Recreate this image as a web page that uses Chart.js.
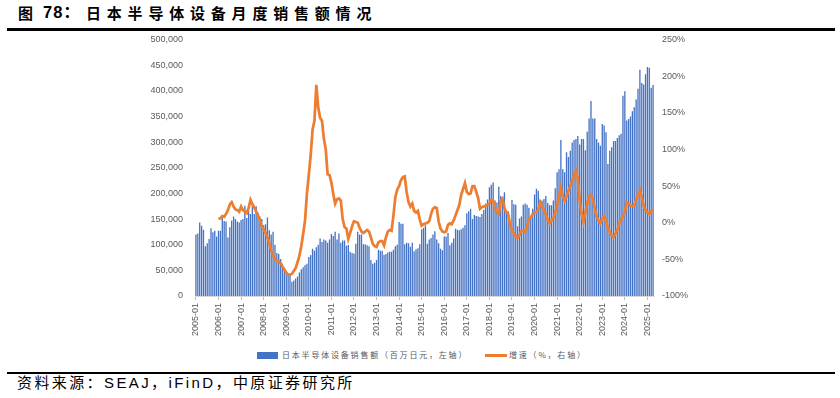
<!DOCTYPE html>
<html><head><meta charset="utf-8">
<script src="https://cdn.jsdelivr.net/npm/chart.js@4.4.0/dist/chart.umd.min.js"></script>
<style>
html,body{margin:0;padding:0;background:#fff;width:840px;height:398px;overflow:hidden;}
.tt{position:absolute;top:5px;font:bold 15px/17px "Liberation Sans","Noto Sans CJK SC",sans-serif;color:#000;white-space:nowrap;}
#topline{position:absolute;left:7px;top:28px;width:828px;height:3px;background:#000;}
#wrap{position:absolute;left:0;top:22px;width:840px;height:323px;}
.lg{position:absolute;font:8px/10px "Noto Sans CJK SC","Liberation Sans",sans-serif;letter-spacing:1.8px;color:#595959;white-space:nowrap;}
#botline{position:absolute;left:7px;top:372px;width:828px;height:2px;background:#000;}
#source{position:absolute;left:17px;top:375px;font:15px/16px "Liberation Sans","Noto Sans CJK SC",sans-serif;letter-spacing:2.4px;color:#000;white-space:nowrap;}
</style></head>
<body>
<div class="tt" style="left:18px">图</div>
<div class="tt" style="left:43px;top:4px;font-size:16.5px;letter-spacing:1px">78：</div>
<div class="tt" style="left:86px;letter-spacing:5.8px">日本半导体设备月度销售额情况</div>
<div id="topline"></div>
<div id="wrap"><canvas id="c" width="840" height="323"></canvas></div>
<div style="position:absolute;left:257px;top:352px;width:21px;height:7px;background:#4472C4"></div>
<div class="lg" style="left:282px;top:350px">日本半导体设备销售额（百万日元，左轴）</div>
<div style="position:absolute;left:485px;top:354px;width:22px;height:3px;background:#ED7D31"></div>
<div class="lg" style="left:509px;top:350px">增速（%，右轴）</div>
<div id="botline"></div>
<div id="source">资料来源：SEAJ，iFinD，中原证券研究所</div>
<script>
// Monthly sales of Japanese semiconductor equipment (million JPY)
const sales2005 = [120000,122000,143000,137000,129000,97000,103000,111000,132000,124000,127000,116000];
const sales2006 = [127000,127000,155000,146000,145000,114000,134000,147000,155000,150000,145000,143000];
const sales2007 = [148000,150000,176000,152000,165000,160000,176000,160000,175000,162000,155000,150000];
const sales2008 = [138000,140000,153000,128000,120000,125000,100000,84000,82000,72000,62000,55000];
const sales2009 = [44000,40000,42000,28000,30000,34000,38000,46000,52000,56000,60000,63000];
const sales2010 = [76000,80000,92000,88000,95000,100000,112000,105000,110000,108000,104000,110000];
const sales2011 = [121000,117000,125000,110000,122000,104000,108000,108000,98000,100000,86000,84000];
const sales2012 = [83000,102000,125000,120000,120000,101000,101000,99000,97000,70000,63000,65000];
const sales2013 = [70000,90000,88000,88000,80000,82000,85000,86000,86000,90000,97000,100000];
const sales2014 = [144000,141000,141000,101000,104000,103000,96000,104000,87000,91000,93000,101000];
const sales2015 = [130000,133000,138000,102000,110000,113000,120000,126000,110000,103000,92000,89000];
const sales2016 = [116000,116000,123000,99000,104000,112000,131000,129000,128000,130000,133000,138000];
const sales2017 = [161000,165000,170000,150000,158000,156000,155000,154000,160000,168000,180000,188000];
const sales2018 = [212000,217000,221000,186000,182000,213000,195000,190000,202000,165000,165000,138000];
const sales2019 = [187000,179000,178000,136000,151000,155000,178000,180000,178000,172000,150000,170000];
const sales2020 = [198000,209000,205000,187000,186000,189000,195000,181000,177000,177000,186000,210000];
const sales2021 = [241000,247000,304000,247000,241000,280000,271000,283000,299000,304000,306000,312000];
const sales2022 = [295000,306000,306000,284000,320000,346000,380000,346000,346000,306000,299000,293000];
const sales2023 = [335000,332000,319000,257000,283000,290000,302000,302000,308000,313000,316000,390000];
const sales2024 = [399000,342000,345000,350000,360000,368000,383000,404000,441000,415000,412000,432000];
const sales2025 = [446000,445000,406000,411000];

// Growth rate (%), starts 2006-01
const growth2006 = [5,6,9,8,12,17,25,28,22,18,17,15];
const growth2007 = [22,17,15,13,20,31,25,21,15,10,3,-5];
const growth2008 = [-9,-14,-20,-28,-38,-44,-50,-52,-53,-55,-60,-64];
const growth2009 = [-68,-71,-71,-70,-66,-62,-54,-45,-32,-15,3,40];
const growth2010 = [65,92,127,139,188,157,143,139,115,100,66,65];
const growth2011 = [55,39,26,32,33,30,5,-6,-8,-22,-14,-5];
const growth2012 = [2,1,0,-7,-12,-14,-12,-10,-12,-20,-29,-32];
const growth2013 = [-33,-27,-25,-25,-31,-20,-12,-10,-11,10,35,45];
const growth2014 = [50,58,62,63,42,28,22,26,16,14,16,4];
const growth2015 = [-4,-2,-1,0,2,12,19,21,20,2,-8,-12];
const growth2016 = [-13,-12,-3,-1,-2,3,10,17,24,38,46,54];
const growth2017 = [42,39,40,50,50,42,34,19,21,22,23,24];
const growth2018 = [26,31,30,20,14,12,30,33,20,14,12,-3];
const growth2019 = [-10,-15,-19,-21,-17,-11,-11,-13,-5,5,7,12];
const growth2020 = [14,14,18,28,22,17,11,4,-1,3,6,14];
const growth2021 = [24,36,48,36,30,36,43,50,56,66,71,60];
const growth2022 = [30,12,1,14,26,36,38,32,20,8,3,-1];
const growth2023 = [5,9,2,-7,-13,-17,-20,-15,-10,-1,4,9];
const growth2024 = [13,28,26,23,23,23,32,38,44,35,23,17];
const growth2025 = [14,12,16,18];

const years = [2005,2006,2007,2008,2009,2010,2011,2012,2013,2014,2015,2016,2017,2018,2019,2020,2021,2022,2023,2024,2025];
const salesByYear = [sales2005,sales2006,sales2007,sales2008,sales2009,sales2010,sales2011,sales2012,sales2013,sales2014,sales2015,sales2016,sales2017,sales2018,sales2019,sales2020,sales2021,sales2022,sales2023,sales2024,sales2025];
const growthByYear = [null,growth2006,growth2007,growth2008,growth2009,growth2010,growth2011,growth2012,growth2013,growth2014,growth2015,growth2016,growth2017,growth2018,growth2019,growth2020,growth2021,growth2022,growth2023,growth2024,growth2025];

const labels = [], sales = [], growth = [];
years.forEach((y, yi) => {
  salesByYear[yi].forEach((v, mi) => {
    labels.push(y + '-' + String(mi + 1).padStart(2, '0'));
    sales.push(v);
    growth.push(growthByYear[yi] ? growthByYear[yi][mi] : null);
  });
});

const tickFont = {family: '"Liberation Sans", Arial, sans-serif', size: 9};
new Chart(document.getElementById('c'), {
  data: {
    labels: labels,
    datasets: [
      {type: 'line', label: '增速（%，右轴）', data: growth, yAxisID: 'y1', borderColor: '#ED7D31', borderWidth: 2.75, pointRadius: 0, tension: 0, order: 1},
      {type: 'bar', label: '日本半导体设备销售额（百万日元，左轴）', data: sales, yAxisID: 'y', backgroundColor: '#4472C4', barPercentage: 0.7, categoryPercentage: 1, order: 2}
    ]
  },
  options: {
    responsive: false, animation: false, devicePixelRatio: 1,
    layout: {padding: {top: 6, left: 0, right: 0, bottom: 0}},
    plugins: {legend: {display: false}, tooltip: {enabled: false}},
    scales: {
      x: {
        offset: true,
        grid: {display: true, drawOnChartArea: false, offset: false, tickLength: 4,
               color: c => (c.index % 12 === 0 ? '#bfbfbf' : 'rgba(0,0,0,0)')},
        border: {display: true, color: '#d9d9d9'},
        ticks: {autoSkip: false, maxRotation: 90, minRotation: 90, padding: 3, color: '#595959', font: tickFont,
                callback: (v, i) => (i % 12 === 0 ? labels[i] : '')},
        afterFit: s => { s.height = 49; }
      },
      y: {
        position: 'left', min: 0, max: 500000,
        ticks: {stepSize: 50000, padding: 12, color: '#595959', font: tickFont, callback: v => v.toLocaleString('en-US')},
        grid: {display: false, drawTicks: false}, border: {display: false},
        afterFit: s => { s.width = 195; }
      },
      y1: {
        position: 'right', min: -100, max: 250,
        ticks: {stepSize: 50, padding: 8, color: '#595959', font: tickFont, callback: v => v + '%'},
        grid: {display: false, drawTicks: false}, border: {display: false},
        afterFit: s => { s.width = 186; }
      }
    }
  }
});
</script>
</body></html>
